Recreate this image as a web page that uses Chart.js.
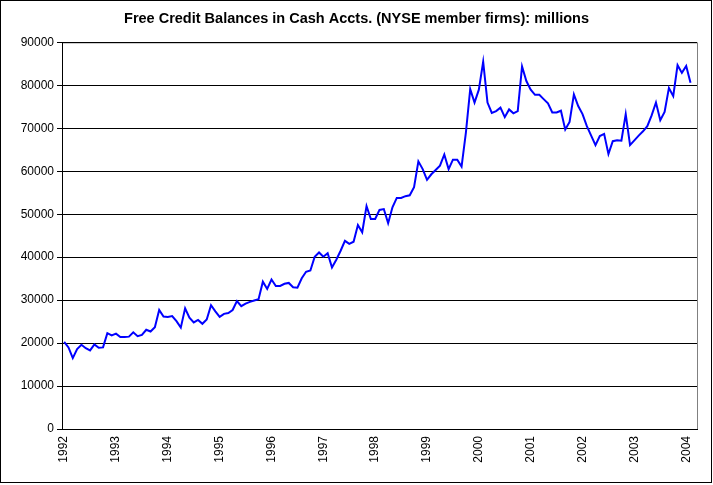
<!DOCTYPE html>
<html>
<head>
<meta charset="utf-8">
<script src="https://cdn.jsdelivr.net/npm/chart.js"></script>
<style>
    html, body { margin: 0; padding: 0; background: #fff; }
</style>
</head>
<body>
<canvas id="chart-credit" width="713" height="485"></canvas>
<script>
// monthly categories, Jan 1992 .. Mar 2004
const firstYear = 1992;
const monthCount = 147;
const yearTicks = ["1992", "1993", "1994", "1995", "1996", "1997", "1998",
                   "1999", "2000", "2001", "2002", "2003", "2004"];

// free credit balances, millions (Jan 1992 .. Feb 2004)
const balances = [
    20300, 19000, 16500, 18600, 19600, 18800, 18300, 19700, 18900, 19000, 22300, 21800,
    22200, 21400, 21400, 21500, 22500, 21600, 21900, 23100, 22700, 23700, 27700, 26200,
    26100, 26300, 25100, 23600, 28100, 25900, 24800, 25400, 24500, 25500, 28800, 27400,
    26100, 26800, 27000, 27700, 29800, 28600, 29200, 29600, 29900, 30200, 34300, 32600,
    34800, 33300, 33300, 33800, 34000, 33000, 32900, 35100, 36600, 36900, 40100, 41100,
    40100, 40900, 37600, 39400, 41500, 43800, 43100, 43600, 47500, 45800, 51900, 48900,
    48900, 51000, 51200, 47900, 51600, 53800, 53800, 54200, 54400, 56300, 62300, 60500,
    58000, 59300, 60300, 61300, 63900, 60500, 62700, 62700, 61100, 69000, 79100, 76000,
    79000, 85500, 76000, 73600, 74000, 74800, 72600, 74400, 73500, 74000, 84400, 81000,
    79000, 77800, 77800, 76800, 75800, 73700, 73700, 74100, 69700, 71500, 77900, 75200,
    73300, 70500, 68300, 66100, 68200, 68700, 64000, 67000, 67200, 67100, 73300, 66100,
    67200, 68300, 69300, 70500, 73000, 76000, 71900, 73800, 79400, 77500, 84700, 82900,
    84500, 80600
];

const yMin = 0;
const yMax = 90000;
const yStep = 10000;

const months = [];
for (let i = 0; i < monthCount; i++) {
    const y = firstYear + Math.floor(i / 12);
    const m = (i % 12) + 1;
    months.push(y + "-" + (m < 10 ? "0" + m : m));
}

const fontFamily = "'Liberation Sans', Arial, sans-serif";

// chart frame + grey plot-area border like Excel
const framePlugin = {
    id: "frame",
    beforeDraw(chart) {
        const { ctx, chartArea: a } = chart;
        ctx.save();
        ctx.fillStyle = "#fff";
        ctx.fillRect(0, 0, chart.width, chart.height);
        ctx.lineWidth = 1;
        ctx.strokeStyle = "#808080";
        ctx.strokeRect(a.left + 0.5, a.top + 0.5, a.right - a.left, a.bottom - a.top);
        ctx.strokeStyle = "#000";
        ctx.strokeRect(0.5, 0.5, chart.width - 2, chart.height - 3);
        ctx.restore();
    },
};

const dataCredit = {
    labels: months,
    datasets: [
        {
            label: "Free Credit Balances",
            data: balances,
            borderColor: "#0000ff",
            borderWidth: 2,
            pointRadius: 0,
            tension: 0,
            fill: false,
        },
    ],
};

const configCredit = {
    type: "line",
    data: dataCredit,
    plugins: [framePlugin],
    options: {
        responsive: false,
        animation: false,
        devicePixelRatio: 1,
        layout: {
            padding: 0,
        },
        plugins: {
            legend: { display: false },
            tooltip: { enabled: false },
            title: {
                display: true,
                text: "Free Credit Balances in Cash Accts. (NYSE member firms): millions",
                color: "#000",
                font: { family: fontFamily, size: 14.5, weight: "bold" },
                padding: { top: 10, bottom: 15 },
            },
        },
        scales: {
            x: {
                type: "category",
                offset: true,
                grid: { display: false, drawTicks: false },
                border: { display: true, color: "#000", width: 1 },
                ticks: {
                    autoSkip: false,
                    minRotation: 90,
                    maxRotation: 90,
                    padding: 7,
                    color: "#000",
                    font: { family: fontFamily, size: 12 },
                    callback: (val, i) => (i % 12 === 0 ? yearTicks[i / 12] : null),
                },
                afterFit: (s) => { s.height = 56; },
            },
            y: {
                min: yMin,
                max: yMax,
                grid: { color: "#000", lineWidth: 1, drawTicks: true, tickLength: 5 },
                border: { display: true, color: "#000", width: 1 },
                ticks: {
                    stepSize: yStep,
                    padding: 3,
                    color: "#000",
                    font: { family: fontFamily, size: 12 },
                    callback: (v) => String(v),
                },
                afterFit: (s) => { s.width = 62; },
            },
            // empty right-hand margin, so the title stays centred on the canvas
            yRight: {
                position: "right",
                min: yMin,
                max: yMax,
                grid: { display: false, drawTicks: false },
                border: { display: false },
                ticks: { display: false },
                afterFit: (s) => { s.width = 16; },
            },
        },
    },
};

new Chart(document.getElementById("chart-credit"), configCredit);
</script>
</body>
</html>
